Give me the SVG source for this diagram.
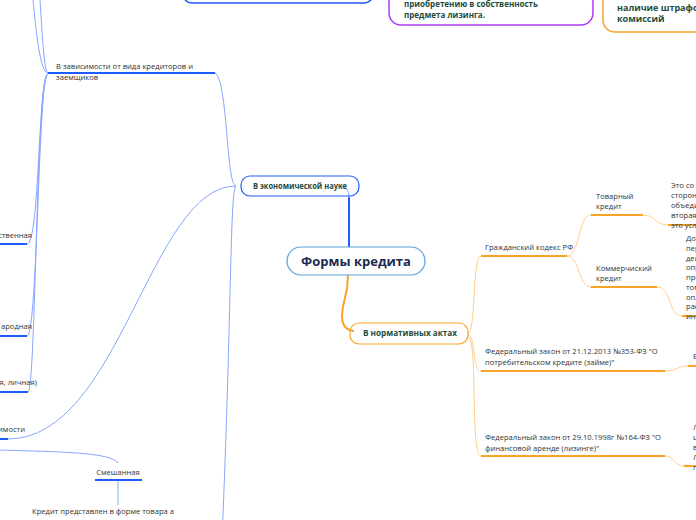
<svg xmlns="http://www.w3.org/2000/svg" width="696" height="520" viewBox="0 0 696 520">
<style>
.t{font-family:"Open Sans","Noto Sans",sans-serif;font-size:7.6px;fill:#333}
.b{font-family:"Open Sans","Noto Sans",sans-serif;font-weight:bold;fill:#1e4b3b}
.bl{fill:none;stroke:#86a6ff;stroke-width:1}
.bt{fill:none;stroke:#1f5cff;stroke-width:2}
.ol{fill:none;stroke:#ffd08a;stroke-width:1}
.ot{fill:none;stroke:#f9a32a;stroke-width:2}
</style>
<rect width="696" height="520" fill="#fff"/>
<g id="connectors">
  <path class="bt" d="M349,247 L349,197" stroke-width="3"/>
  <path class="bl" d="M349,198 Q349,186 340,186"/>
  <path class="ot" d="M348,275 C348,298 342,300 342,316 Q342,330 354,331" stroke-width="3"/>
  <path class="bl" d="M236,186 C226,186 228,80 215,73"/>
  <path class="bl" d="M236,186 C150,186 120,439 8,439"/>
  <path class="bl" d="M236,186 C230,190 232,300 222,540"/>
  <path class="bl" d="M48,73 C40,73 36,30 33,0"/>
  <path class="bl" d="M48,73 C44,73 42,30 40,0"/>
  <path class="bl" d="M48,74 C38,74 40,244 27,244"/>
  <path class="bl" d="M48,74 C38,74 38,336 27,336"/>
  <path class="bl" d="M48,74 C36,74 36,392 28,392"/>
  <path class="bl" d="M0,450 C60,452 110,452 118,463"/>
  <path class="bl" d="M118,480 L118,505"/>
  <path class="ol" d="M468,333 C476,333 472,256 481,256"/>
  <path class="ol" d="M468,335 C476,335 472,371 481,371"/>
  <path class="ol" d="M468,337 C478,337 470,456 481,456"/>
  <path class="ol" d="M567,256 C580,256 578,215 591,215"/>
  <path class="ol" d="M567,256 C580,256 578,287 591,287"/>
  <path class="ol" d="M643,215 C656,215 655,225 668,225"/>
  <path class="ol" d="M657,287 C672,287 668,316 682,316"/>
  <path class="ol" d="M665,371 C677,371 677,366 688,366"/>
  <path class="ol" d="M665,456 C675,456 673,466 684,466"/>
</g>
<g id="top-blue"><rect x="183" y="-40" width="190" height="43" rx="9" fill="#fff" stroke="#1f5cff" stroke-width="1.5"/></g>
<g id="top-purple">
  <rect x="389" y="-40" width="204" height="65" rx="12" fill="#fff" stroke="#a93cf0" stroke-width="1.5"/>
  <text class="b" font-size="8.5" x="404" y="6.5" textLength="134" lengthAdjust="spacingAndGlyphs">приобретению в собственность</text>
  <text class="b" font-size="8.5" x="404" y="17.5" textLength="81" lengthAdjust="spacingAndGlyphs">предмета лизинга.</text>
</g>
<g id="top-orange">
  <rect x="603" y="-40" width="130" height="72" rx="12" fill="#fff" stroke="#f9a32a" stroke-width="1.5"/>
  <text class="b" font-size="9" x="617" y="11">наличие штрафов</text>
  <text class="b" font-size="9" x="617" y="22">комиссий</text>
</g>
<g id="root">
  <rect x="287" y="247" width="138" height="28" rx="14" fill="#fff" stroke="#5a9fd8" stroke-width="1.2"/>
  <text x="356" y="266" text-anchor="middle" font-family="Open Sans,Noto Sans,sans-serif" font-weight="bold" font-size="13" fill="#1b2a4e">Формы кредита</text>
</g>
<g id="econ">
  <rect x="241" y="176" width="118" height="20" rx="9" fill="none" stroke="#1f5cff" stroke-width="1.2"/>
  <text class="b" font-size="8" x="253" y="189" textLength="94" lengthAdjust="spacingAndGlyphs">В экономической науке</text>
</g>
<g id="norm">
  <rect x="350" y="323" width="118" height="21" rx="9" fill="none" stroke="#f9a32a" stroke-width="1.2"/>
  <text class="b" font-size="8.5" x="363" y="336" textLength="94" lengthAdjust="spacingAndGlyphs">В нормативных актах</text>
</g>
<g id="creditors">
  <path class="bt" d="M48,73 L215,73"/>
  <text class="t" x="56" y="69">В зависимости от вида кредиторов и</text>
  <text class="t" x="56" y="80">заемщиков</text>
</g>
<g id="left1"><path class="bt" d="M0,244 L27,244"/><text class="t" x="32" y="238" text-anchor="end">ственная</text></g>
<g id="left2"><path class="bt" d="M0,336 L27,336"/><text class="t" x="32" y="329" text-anchor="end">ародная</text></g>
<g id="left3"><path class="bt" d="M0,392 L28,392"/><text class="t" x="37" y="385" text-anchor="end">я, личная)</text></g>
<g id="left4"><path class="bt" d="M0,439 L8,439"/><text class="t" x="25" y="432" text-anchor="end">имости</text></g>
<g id="mixed"><path class="bt" d="M95,480 L142,480"/><text class="t" x="118" y="475" text-anchor="middle">Смешанная</text></g>
<g id="mixed-desc"><text class="t" x="32" y="514">Кредит представлен в форме товара а</text></g>
<g id="gk">
  <path class="ot" d="M481,256 L567,256"/>
  <text class="t" x="485" y="250">Гражданский кодекс РФ</text>
</g>
<g id="tovar">
  <path class="ot" d="M591,215 L643,215"/>
  <text class="t" x="596" y="199">Товарный</text>
  <text class="t" x="596" y="209">кредит</text>
</g>
<g id="komm">
  <path class="ot" d="M591,287 L657,287"/>
  <text class="t" x="596" y="271">Коммерчиский</text>
  <text class="t" x="596" y="281">кредит</text>
</g>
<g id="tovar-desc">
  <path class="ot" d="M668,225 L696,225"/>
  <text class="t" x="671" y="188">Это со</text>
  <text class="t" x="671" y="198">сторон</text>
  <text class="t" x="671" y="208">объеди</text>
  <text class="t" x="671" y="218">вторая</text>
  <text class="t" x="671" y="228">это усл</text>
</g>
<g id="komm-desc">
  <path class="ot" d="M682,316 L696,316"/>
  <text class="t" x="686" y="241">До</text>
  <text class="t" x="686" y="251">пер</text>
  <text class="t" x="686" y="261">дей</text>
  <text class="t" x="686" y="270">опр</text>
  <text class="t" x="686" y="280">пре</text>
  <text class="t" x="686" y="290">том</text>
  <text class="t" x="686" y="300">опл</text>
  <text class="t" x="686" y="309">рас</text>
  <text class="t" x="686" y="319">ин</text>
</g>
<g id="law353">
  <path class="ot" d="M481,371 L665,371"/>
  <text class="t" x="485" y="354">Федеральный закон от 21.12.2013 №353-ФЗ  "О</text>
  <text class="t" x="485" y="365">потребительском кредите (займе)"</text>
</g>
<g id="law353-desc">
  <path class="ot" d="M688,366 L696,366"/>
  <text class="t" x="693" y="359">Б</text>
</g>
<g id="law164">
  <path class="ot" d="M481,456 L665,456"/>
  <text class="t" x="485" y="440">Федеральный закон от 29.10.1998г №164-ФЗ "О</text>
  <text class="t" x="485" y="451">финансовой аренде (лизинге)"</text>
</g>
<g id="law164-desc">
  <path class="ot" d="M684,466 L696,466"/>
  <text class="t" x="693" y="430">Л</text>
  <text class="t" x="693" y="440">ш</text>
  <text class="t" x="693" y="450">в</text>
  <text class="t" x="693" y="460">Л</text>
  <text class="t" x="693" y="470">п</text>
</g>
</svg>
